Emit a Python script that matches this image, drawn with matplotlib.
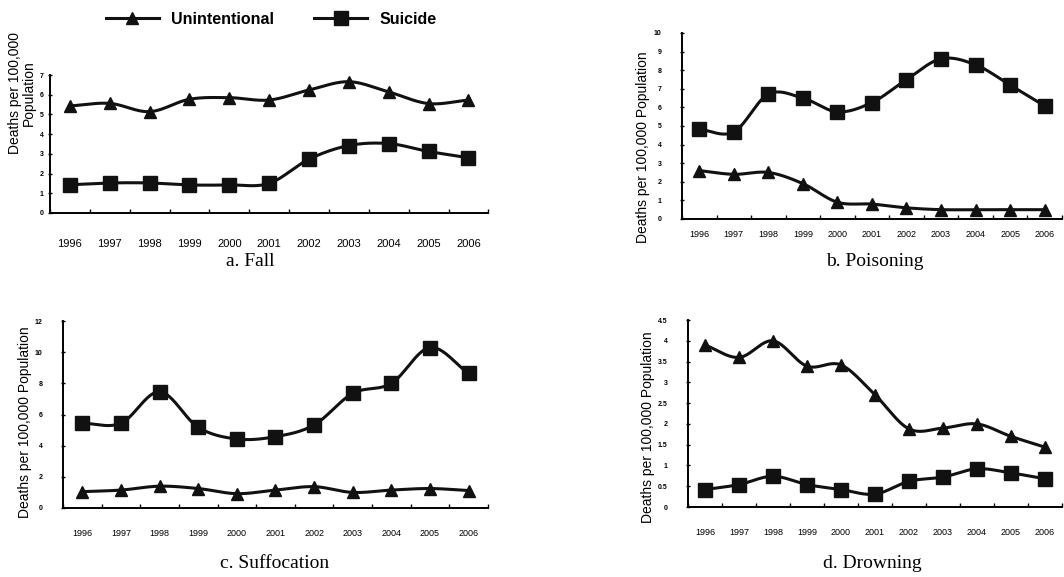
import matplotlib
matplotlib.use('Agg')
import matplotlib.pyplot as plt
import numpy as np

# years on the x axis
years = ['1996', '1997', '1998', '1999', '2000', '2001',
         '2002', '2003', '2004', '2005', '2006']

# deaths per 100,000 population, by mechanism
fall_unint = [5.43, 5.56, 5.14, 5.77, 5.85, 5.73, 6.24, 6.66, 6.14, 5.55, 5.73]
fall_suic = [1.43, 1.52, 1.52, 1.42, 1.42, 1.5, 2.73, 3.42, 3.52, 3.12, 2.8]

pois_unint = [2.6, 2.4, 2.5, 1.9, 0.9, 0.8, 0.6, 0.5, 0.5, 0.5, 0.5]
pois_suic = [4.82, 4.68, 6.71, 6.5, 5.76, 6.26, 7.49, 8.61, 8.29, 7.2, 6.08]

suff_unint = [1.05, 1.15, 1.4, 1.25, 0.92, 1.15, 1.37, 1.0, 1.15, 1.25, 1.12]
suff_suic = [5.44, 5.44, 7.46, 5.18, 4.43, 4.58, 5.33, 7.36, 8.0, 10.3, 8.64]

drown_unint = [3.9, 3.6, 4.0, 3.39, 3.42, 2.7, 1.88, 1.9, 2.0, 1.7, 1.44]
drown_suic = [0.42, 0.54, 0.74, 0.54, 0.42, 0.31, 0.62, 0.72, 0.92, 0.82, 0.68]

plt.rcParams['font.family'] = ['Liberation Sans', 'DejaVu Sans']


# smooth curve through the points (Catmull-Rom, like a spreadsheet "smoothed line")
def smooth(y, n=24):
    y = np.asarray(y, dtype=float)
    x = np.arange(len(y), dtype=float)
    px = np.concatenate([[2 * x[0] - x[1]], x, [2 * x[-1] - x[-2]]])
    py = np.concatenate([[2 * y[0] - y[1]], y, [2 * y[-1] - y[-2]]])
    xs, ys = [], []
    t = np.linspace(0, 1, n, endpoint=False)
    for i in range(1, len(px) - 2):
        for p, out in ((px, xs), (py, ys)):
            p0, p1, p2, p3 = p[i - 1], p[i], p[i + 1], p[i + 2]
            out.extend(0.5 * (2 * p1 + (-p0 + p2) * t
                              + (2 * p0 - 5 * p1 + 4 * p2 - p3) * t ** 2
                              + (-p0 + 3 * p1 - 3 * p2 + p3) * t ** 3))
    xs.append(x[-1])
    ys.append(y[-1])
    return np.array(xs), np.array(ys)


def draw(ax, unint, suic, ymax, ystep, yfmt, year_size, year_pad, ypad=13):
    x = np.arange(len(years))
    lines = []
    for vals, mk, ms, lab in ((unint, '^', 9, 'Unintentional'),
                              (suic, 's', 9.5, 'Suicide')):
        sx, sy = smooth(vals)
        ax.plot(sx, sy, color='#111111', lw=2.2, zorder=2)
        ax.plot(x, vals, linestyle='none', marker=mk, ms=ms,
                color='#111111', zorder=3)
        h, = ax.plot([], [], color='#111111', lw=2.2, marker=mk, ms=ms, label=lab)
        lines.append(h)
    ax.set_xlim(-0.5, len(years) - 0.5)
    ax.set_ylim(0, ymax)
    ax.spines['top'].set_visible(False)
    ax.spines['right'].set_visible(False)
    ax.spines['left'].set_linewidth(1.4)
    ax.spines['bottom'].set_linewidth(1.4)
    ax.set_xticks(x)
    ax.set_xticklabels(years, fontsize=year_size)
    ax.set_xticks(np.arange(len(years) + 1) - 0.5, minor=True)
    ax.tick_params(axis='x', which='major', length=0, pad=year_pad)
    ax.tick_params(axis='x', which='minor', direction='in', length=3, width=1)
    yt = np.arange(0, ymax + ystep / 2, ystep)
    ax.set_yticks(yt)
    ax.set_yticklabels([yfmt(v) for v in yt], fontsize=5, fontweight='bold')
    ax.tick_params(axis='y', direction='inout', length=3.5, width=1, pad=ypad)
    return lines


fig = plt.figure(figsize=(10.64, 5.77), dpi=100)

ax_a = fig.add_axes([0.047, 0.631, 0.412, 0.239])
ax_b = fig.add_axes([0.641, 0.6205, 0.357, 0.3224])
ax_c = fig.add_axes([0.0592, 0.1196, 0.3994, 0.324])
ax_d = fig.add_axes([0.6466, 0.1213, 0.3515, 0.324])

handles = draw(ax_a, fall_unint, fall_suic, 7, 1, lambda v: '%d' % v, 8, 19, ypad=3)
draw(ax_b, pois_unint, pois_suic, 10, 1, lambda v: '%d' % v, 6.5, 8)
draw(ax_c, suff_unint, suff_suic, 12, 2, lambda v: '%d' % v, 6.5, 15)
draw(ax_d, drown_unint, drown_suic, 4.5, 0.5, lambda v: '%g' % v, 6.5, 15)

# axis titles
fig.text(0.021, 0.839, 'Deaths per 100,000\nPopulation', rotation=90,
         ha='center', va='center', multialignment='center', fontsize=10,
         linespacing=1.0)
fig.text(0.604, 0.745, 'Deaths per 100,000 Population', rotation=90,
         ha='center', va='center', fontsize=10)
fig.text(0.0235, 0.269, 'Deaths per 100,000 Population', rotation=90,
         ha='center', va='center', fontsize=10)
fig.text(0.609, 0.26, 'Deaths per 100,000 Population', rotation=90,
         ha='center', va='center', fontsize=10)

# panel captions
cap = dict(ha='center', va='center', fontsize=14, family='Liberation Serif')
fig.text(0.235, 0.546, 'a. Fall', **cap)
fig.text(0.822, 0.546, 'b. Poisoning', **cap)
fig.text(0.258, 0.024, 'c. Suffocation', **cap)
fig.text(0.82, 0.024, 'd. Drowning', **cap)

fig.legend(handles=handles, loc='center', bbox_to_anchor=(0.255, 0.967),
           ncol=2, frameon=False, handlelength=3.3, columnspacing=2.5,
           prop={'weight': 'bold', 'size': 11.5})

fig.savefig('out.png', dpi=100)
